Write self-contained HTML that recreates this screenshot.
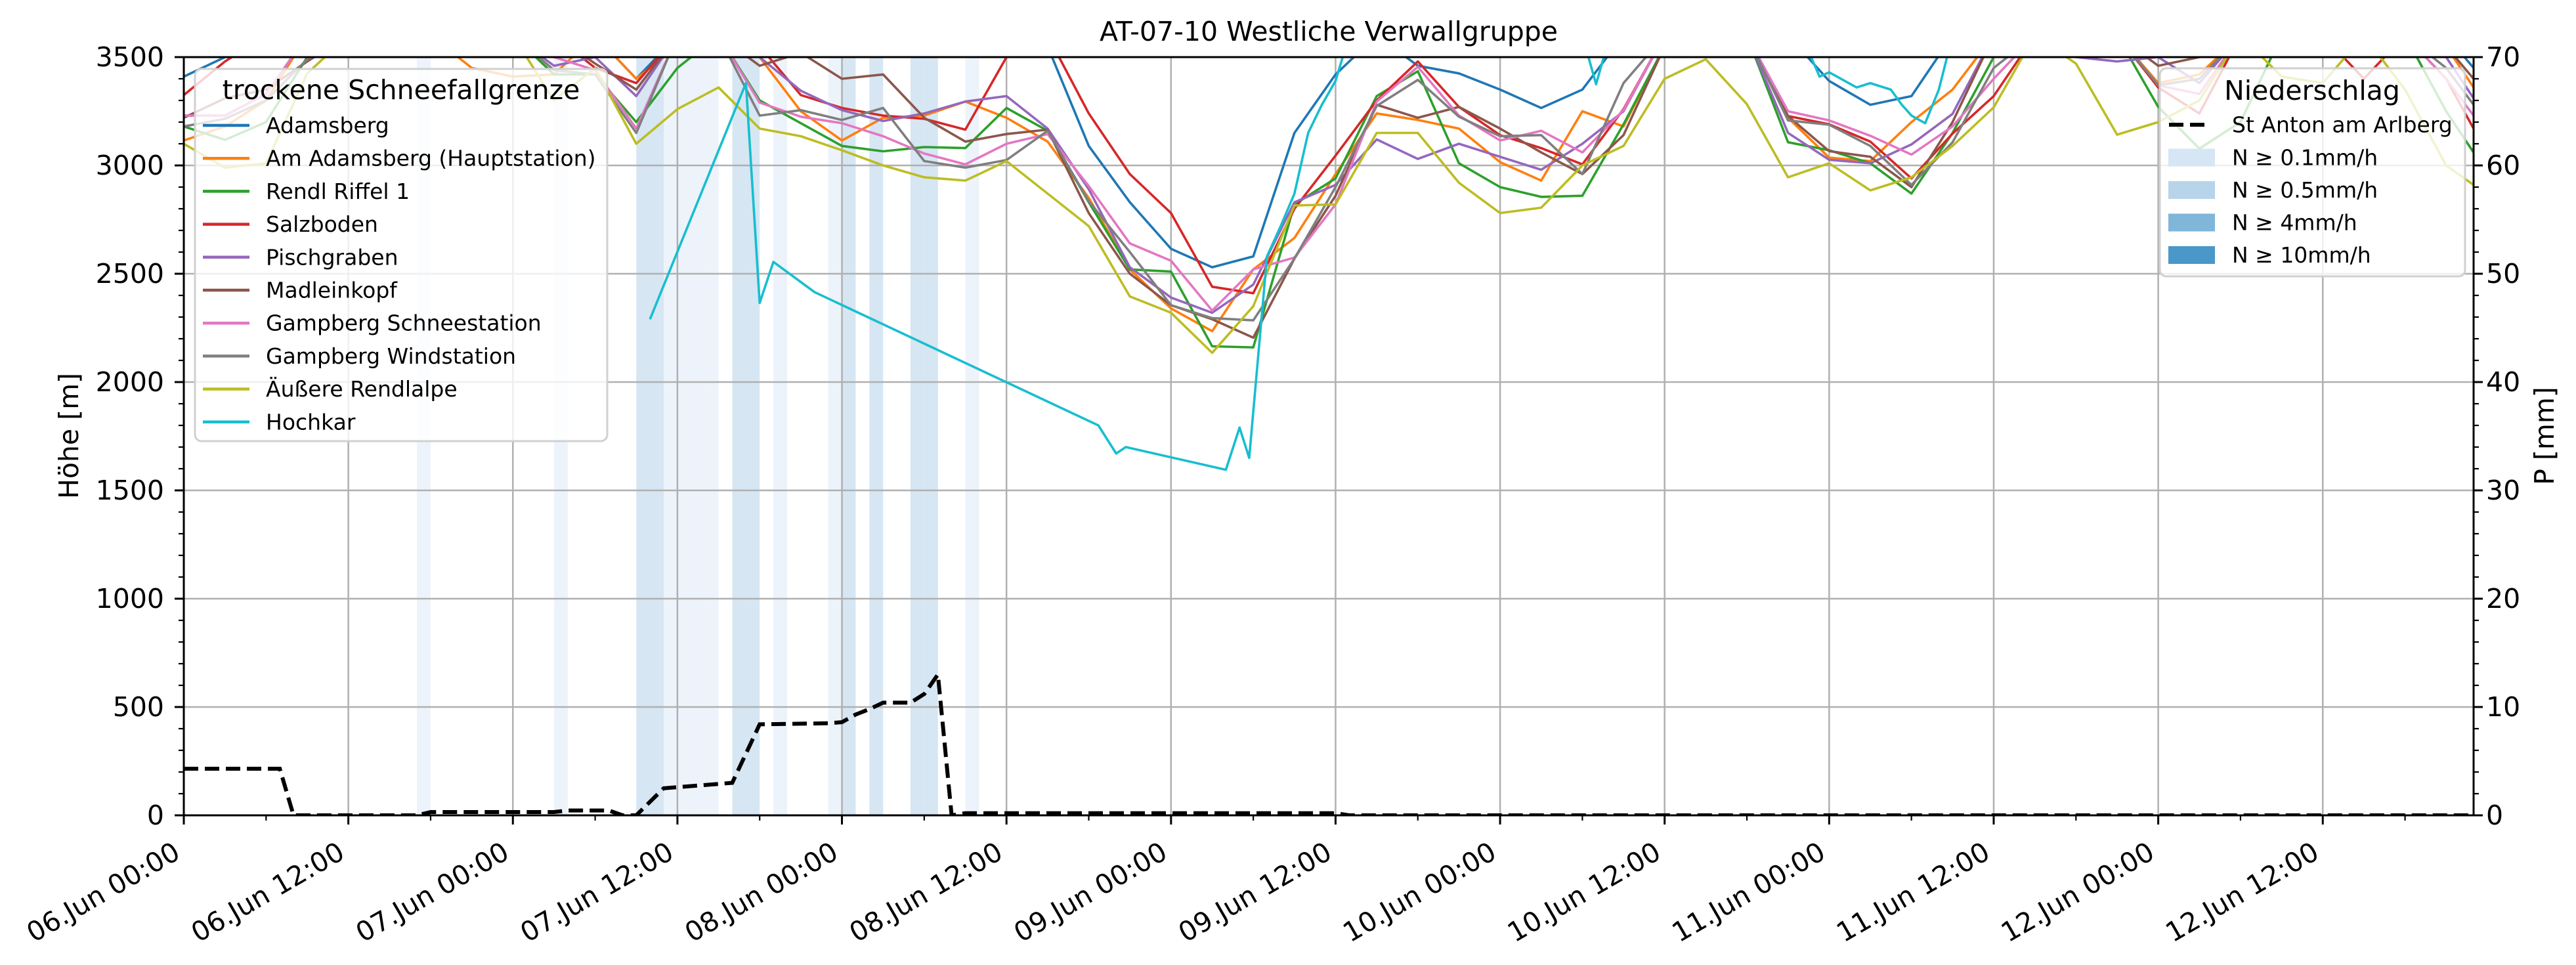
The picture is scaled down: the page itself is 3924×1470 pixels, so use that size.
<!DOCTYPE html>
<html><head><meta charset="utf-8"><style>
html,body{margin:0;padding:0;background:#fff;}
svg{display:block;font-family:"DejaVu Sans","Liberation Sans",sans-serif;}
</style></head>
<body>
<svg id="chart" width="3924" height="1470" viewBox="0 0 3924 1470" xmlns="http://www.w3.org/2000/svg">
<defs><clipPath id="plotclip"><rect x="280" y="87" width="3488" height="1155"/></clipPath></defs>
<rect x="0" y="0" width="3924" height="1470" fill="#fff"/>
<text x="2024" y="62" font-size="41" text-anchor="middle">AT-07-10 Westliche Verwallgruppe</text>
<g id="spans" clip-path="url(#plotclip)"></g>
<g id="grid"></g>
<g id="lines" clip-path="url(#plotclip)"></g>
<g id="axes"></g>
<text x="105" y="664" font-size="41" text-anchor="middle" transform="rotate(-90,105,664)" dominant-baseline="central">Höhe [m]</text>
<text x="3876" y="664" font-size="41" text-anchor="middle" transform="rotate(-90,3876,664)" dominant-baseline="central">P [mm]</text>
<g id="legend1"></g>
<g id="legend2"></g>
</svg>
<script>
const hours = [0,3,6,9,12,15,18,21,24,27,30,33,36,39,42,45,48,51,54,57,60,63,66,69,72,75,78,81,84,87,90,93,96,99,102,105,108,111,114,117,120,123,126,129,132,135,138,141,144,147,150,153,156,159,162,165,167];
const names = ["Adamsberg","Am Adamsberg (Hauptstation)","Rendl Riffel 1","Salzboden","Pischgraben","Madleinkopf","Gampberg Schneestation","Gampberg Windstation","Äußere Rendlalpe","Hochkar"];
const colors = ["#1f77b4","#ff7f0e","#2ca02c","#d62728","#9467bd","#8c564b","#e377c2","#7f7f7f","#bcbd22","#17becf"];
const adamsberg = [3410,3500,3600,3600,3600,3600,3600,3600,3600,3600, 3600,3400,3600,3600,3600,3600,3600,3600,3600,3600, 3600,3550,3090,2830,2615,2530,2580,3150,3420,3600, 3460,3425,3350,3265,3350,3600,3600,3600,3600,3600, 3390,3280,3320,3600,3600,3600,3600,3600,3600,3600, 3600,3600,3600,3600,3600,3600,3450];
const amAdamsberg = [3115,3180,3300,3600,3600,3600,3600,3450,3410,3420, 3600,3400,3550,3600,3500,3250,3115,3220,3230,3295, 3220,3110,2850,2520,2340,2235,2520,2665,2960,3240, 3210,3170,3015,2930,3250,3180,3550,3600,3600,3220, 3036,3020,3200,3350,3600,3600,3600,3600,3380,3420, 3600,3600,3600,3600,3600,3550,3360];
const rendlRiffel = [3180,3118,3200,3500,3600,3600,3600,3600,3600,3420, 3420,3200,3450,3600,3300,3195,3090,3065,3085,3080, 3265,3160,2830,2520,2510,2165,2160,2820,2940,3320, 3435,3010,2900,2855,2860,3190,3550,3600,3600,3107, 3070,3010,2870,3150,3500,3600,3600,3600,3270,3078, 3200,3600,3600,3600,3600,3250,3060];
const salzboden = [3325,3480,3600,3600,3600,3600,3600,3600,3600,3600, 3450,3380,3600,3600,3550,3325,3265,3230,3215,3165, 3500,3600,3240,2960,2780,2440,2410,2800,3045,3300, 3480,3270,3140,3080,3005,3260,3600,3600,3600,3228, 3190,3110,2940,3147,3320,3600,3600,3600,3360,3240, 3600,3600,3600,3400,3600,3400,3170];
const pischgraben = [3230,3230,3330,3600,3600,3600,3600,3600,3600,3460, 3500,3320,3600,3600,3500,3345,3255,3205,3240,3295, 3320,3170,2890,2530,2390,2320,2450,2830,2910,3120, 3030,3100,3040,2980,3100,3250,3600,3600,3600,3150, 3026,3010,3097,3238,3600,3600,3500,3480,3500,3380, 3600,3600,3600,3600,3600,3500,3310];
const madleinkopf = [3220,3310,3350,3480,3600,3600,3600,3600,3600,3600, 3470,3350,3600,3600,3460,3520,3400,3420,3220,3110, 3145,3165,2780,2500,2355,2290,2205,2570,2860,3280, 3220,3270,3170,3060,2960,3140,3550,3600,3600,3228, 3066,3040,2900,3200,3600,3600,3600,3600,3460,3500, 3600,3600,3600,3600,3600,3550,3400];
const gampbergSchnee = [3230,3230,3330,3600,3600,3600,3600,3600,3600,3500, 3440,3170,3600,3600,3290,3225,3195,3135,3055,3005, 3100,3145,2905,2640,2560,2330,2520,2575,2820,3295, 3455,3230,3115,3160,3060,3255,3600,3600,3600,3250, 3208,3137,3050,3180,3400,3600,3600,3600,3370,3330, 3600,3600,3600,3600,3600,3400,3230];
const gampbergWind = [3180,3215,3300,3490,3600,3600,3600,3600,3600,3440, 3420,3150,3600,3600,3230,3255,3210,3265,3020,2990, 3025,3160,2835,2600,2355,2295,2285,2570,2900,3275, 3395,3225,3135,3140,2960,3380,3600,3600,3600,3208, 3188,3090,2910,3107,3450,3600,3600,3600,3370,3400, 3600,3600,3600,3600,3600,3450,3280];
const aeussereRendlalpe = [3100,2990,3010,3425,3600,3600,3600,3600,3600,3300, 3450,3100,3260,3360,3170,3135,3070,3000,2945,2930, 3020,2870,2720,2395,2320,2135,2350,2815,2820,3150, 3150,2920,2780,2805,3000,3090,3400,3490,3283,2945, 3010,2885,2945,3090,3268,3600,3470,3142,3200,3300, 3600,3410,3380,3600,3350,3000,2910];
const hochkarHours = [34,41,42,43,46,66.7,68,68.7,76,77,77.7,79,80,81,82,83,84,85,102,103,104,118,119.3,120,122,123,124.5,125.3,126,127,128,129,167];
const hochkarValues = [2290,3380,2365,2555,2415,1800,1670,1700,1595,1790,1650,2580,2720,2870,3150,3280,3390,3600,3600,3375,3600,3600,3410,3430,3360,3380,3350,3280,3230,3195,3350,3600,3600];
const precipHours = [0,7,8,17,18,27,28,31,32,33,35,40,42,47,48,49,50,51,53,54,55,56,57,84,85,167];
const precipValues = [4.3,4.3,0,0,0.3,0.3,0.45,0.45,0,0,2.5,3.0,8.4,8.5,8.6,9.3,9.8,10.4,10.4,11.2,13.0,0,0.2,0.2,0,0];
const rainHours = [17,27,33,34,35,36,37,38,40,41,43,47,48,50,53,54,57];
const rainLevels = [1,1,2,2,1,1,1,1,2,2,1,1,2,2,2,2,1];
const xTickLabels = ["06.Jun 00:00","06.Jun 12:00","07.Jun 00:00","07.Jun 12:00","08.Jun 00:00","08.Jun 12:00","09.Jun 00:00","09.Jun 12:00","10.Jun 00:00","10.Jun 12:00","11.Jun 00:00","11.Jun 12:00","12.Jun 00:00","12.Jun 12:00"];
const yTicks = [0,500,1000,1500,2000,2500,3000,3500];
const pTicks = [0,10,20,30,40,50,60,70];
const precipLegend = ["N ≥ 0.1mm/h","N ≥ 0.5mm/h","N ≥ 4mm/h","N ≥ 10mm/h"];
const precipColors = ["#d6e6f4","#b7d4ea","#7fb6d9","#4a97c9"];

const NS = "http://www.w3.org/2000/svg";
const L = 280, R = 3768, T = 87, B = 1242, HMAX = 167;
const xS = h => L + h * (R - L) / HMAX;
const yS = v => B - v * (B - T) / 3500;
const pS = p => B - p * (B - T) / 70;
function mk(tag, attrs, parent) {
  const e = document.createElementNS(NS, tag);
  for (const k in attrs) e.setAttribute(k, attrs[k]);
  parent.appendChild(e);
  return e;
}
const spans = document.getElementById('spans');
rainHours.forEach((h, i) => {
  const r = mk('rect', {x: xS(h), y: T, width: xS(h + 1) - xS(h), height: B - T, fill: rainLevels[i] === 2 ? '#d6e6f3' : '#edf3fa'}, spans);
  
  
});
const grid = document.getElementById('grid');
for (let i = 0; i < xTickLabels.length; i++) {
  const g = mk('line', {x1: xS(i * 12), x2: xS(i * 12), y1: T, y2: B, stroke: '#b0b0b0', 'stroke-width': 2.5}, grid);
  
  
}
yTicks.forEach(v => {
  const g = mk('line', {x1: L, x2: R, y1: yS(v), y2: yS(v), stroke: '#b0b0b0', 'stroke-width': 2.5}, grid);
  
  
});
const lines = document.getElementById('lines');
const series = [adamsberg, amAdamsberg, rendlRiffel, salzboden, pischgraben, madleinkopf, gampbergSchnee, gampbergWind, aeussereRendlalpe];
series.forEach((vals, s) => {
  const d = vals.map((v, i) => (i ? 'L' : 'M') + xS(hours[i]).toFixed(1) + ' ' + yS(v).toFixed(1)).join(' ');
  const p = mk('path', {d: d, fill: 'none', stroke: colors[s], 'stroke-width': 3.6, 'stroke-linejoin': 'round'}, lines);
  
  
});
{
  const d = hochkarValues.map((v, i) => (i ? 'L' : 'M') + xS(hochkarHours[i]).toFixed(1) + ' ' + yS(v).toFixed(1)).join(' ');
  const p = mk('path', {d: d, fill: 'none', stroke: colors[9], 'stroke-width': 3.6, 'stroke-linejoin': 'round'}, lines);
  
  
}
{
  const d = precipValues.map((v, i) => (i ? 'L' : 'M') + xS(precipHours[i]).toFixed(1) + ' ' + pS(v).toFixed(1)).join(' ');
  const p = mk('path', {d: d, fill: 'none', stroke: '#000', 'stroke-width': 6, 'stroke-dasharray': '22 10'}, lines);
  
  
}
const axes = document.getElementById('axes');
const frame = mk('rect', {x: L, y: T, width: R - L, height: B - T, fill: 'none', stroke: '#000', 'stroke-width': 3}, axes);


for (let h = 0; h <= HMAX; h += 6) {
  const major = h % 12 === 0;
  const t = mk('line', {x1: xS(h), x2: xS(h), y1: B, y2: B + (major ? 14 : 8), stroke: '#000', 'stroke-width': major ? 3 : 2.2}, axes);
  
  
}
xTickLabels.forEach((lab, i) => {
  const x = xS(i * 12) - 3, y = 1306;
  const t = mk('text', {x: x, y: y, 'font-size': 41, 'text-anchor': 'end', transform: `rotate(-30,${x},${y})`}, axes);
  t.textContent = lab;
  
  
});
for (let v = 0; v <= 3500; v += 100) {
  const major = v % 500 === 0;
  const t = mk('line', {x1: L - (major ? 14 : 8), x2: L, y1: yS(v), y2: yS(v), stroke: '#000', 'stroke-width': major ? 3 : 2.2}, axes);
  
  
}
yTicks.forEach(v => {
  const t = mk('text', {x: 250, y: yS(v), 'font-size': 41, 'text-anchor': 'end', 'dominant-baseline': 'central'}, axes);
  t.textContent = v;
  
  
});
for (let p = 0; p <= 70; p += 2) {
  const major = p % 10 === 0;
  const t = mk('line', {x1: R, x2: R + (major ? 14 : 8), y1: pS(p), y2: pS(p), stroke: '#000', 'stroke-width': major ? 3 : 2.2}, axes);
  
  
}
pTicks.forEach(p => {
  const t = mk('text', {x: 3787, y: pS(p), 'font-size': 41, 'text-anchor': 'start', 'dominant-baseline': 'central'}, axes);
  t.textContent = p;
  
  
});
// legend 1
const lg1 = document.getElementById('legend1');
const box1 = mk('rect', {x: 297, y: 105, width: 628, height: 567, rx: 10, fill: 'rgba(255,255,255,0.8)', stroke: '#d0d0d0', 'stroke-width': 3}, lg1);


const lt1 = mk('text', {x: 611, y: 137, 'font-size': 41, 'text-anchor': 'middle', 'dominant-baseline': 'central'}, lg1);
lt1.textContent = 'trockene Schneefallgrenze';


names.forEach((n, i) => {
  const y = 191 + i * 50.2;
  const ln = mk('line', {x1: 309, x2: 380, y1: y, y2: y, stroke: colors[i], 'stroke-width': 4.5}, lg1);
  
  
  const t = mk('text', {x: 405, y: y, 'font-size': 33, 'dominant-baseline': 'central'}, lg1);
  t.textContent = n;
  
  
});
// legend 2
const lg2 = document.getElementById('legend2');
const box2 = mk('rect', {x: 3290, y: 104, width: 465, height: 317, rx: 10, fill: 'rgba(255,255,255,0.8)', stroke: '#d0d0d0', 'stroke-width': 3}, lg2);


const lt2 = mk('text', {x: 3522, y: 138, 'font-size': 41, 'text-anchor': 'middle', 'dominant-baseline': 'central'}, lg2);
lt2.textContent = 'Niederschlag';


const dl = mk('line', {x1: 3304, x2: 3364, y1: 190, y2: 190, stroke: '#000', 'stroke-width': 6, 'stroke-dasharray': '22 10'}, lg2);


const dt = mk('text', {x: 3400, y: 190, 'font-size': 33, 'dominant-baseline': 'central'}, lg2);
dt.textContent = 'St Anton am Arlberg';


precipLegend.forEach((n, i) => {
  const y = 240 + i * 49.5;
  const r = mk('rect', {x: 3303, y: y - 13.5, width: 71, height: 27, fill: precipColors[i]}, lg2);
  
  
  const t = mk('text', {x: 3400, y: y, 'font-size': 33, 'dominant-baseline': 'central'}, lg2);
  t.textContent = n;
  
  
});
</script>
</body></html>
